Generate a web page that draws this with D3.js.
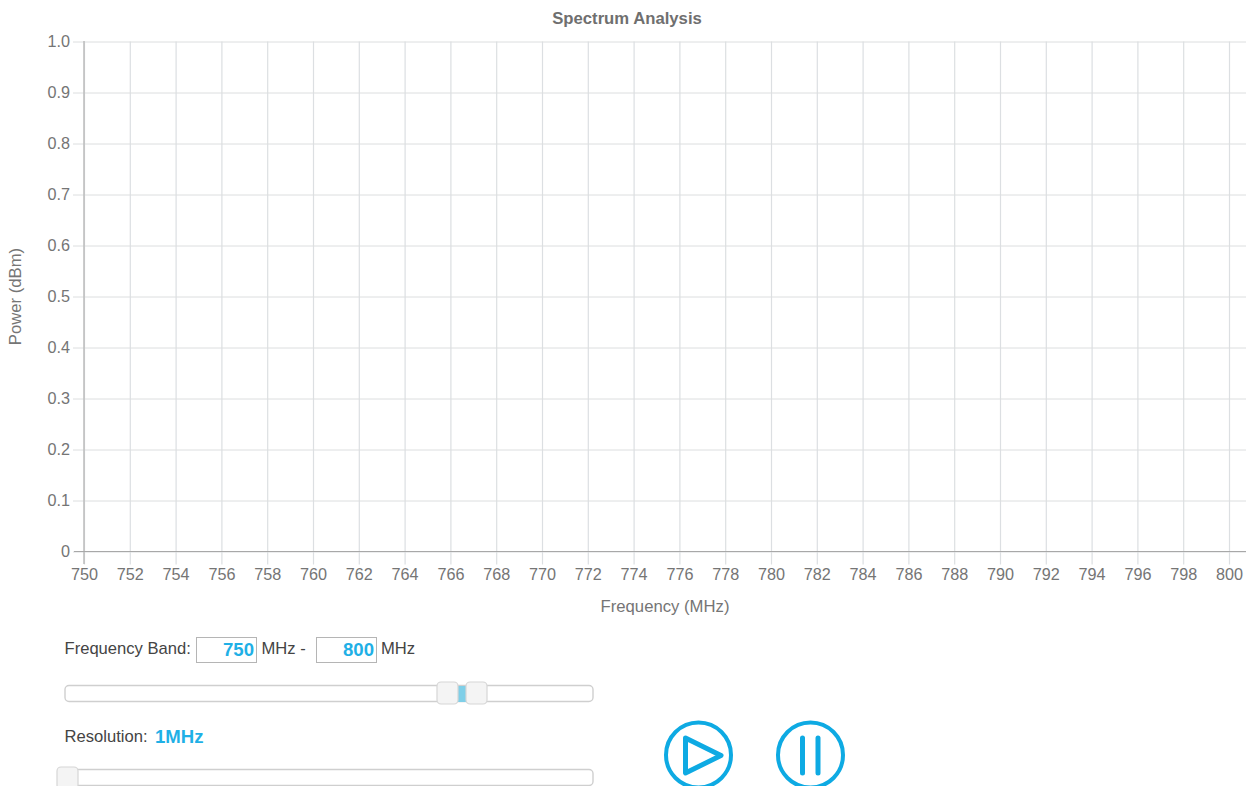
<!DOCTYPE html>
<html>
<head>
<meta charset="utf-8">
<style>
    html, body { margin: 0; padding: 0; background: #fff; overflow: hidden; }
    svg { display: block; font-family: "Liberation Sans", Arial, sans-serif; }
    .tick text { font-size: 16.2px; fill: #757575; }
    .lbl { font-size: 16.6px; fill: #444; }
    .val { font-size: 18.6px; font-weight: bold; fill: #1fb0e6; }
    .axis-title { font-size: 16.7px; fill: #757575; }
</style>
</head>
<body>
<svg id="chart" width="1249" height="786"></svg>
<script src="https://d3js.org/d3.v7.min.js"></script>
<script>
    // chart values
    const chartTitle = 'Spectrum Analysis'
    const xLabel = 'Frequency (MHz)'
    const yLabel = 'Power (dBm)'
    const freqTicks = [750, 752, 754, 756, 758, 760, 762, 764, 766, 768, 770, 772, 774,
        776, 778, 780, 782, 784, 786, 788, 790, 792, 794, 796, 798, 800]
    const powerTicks = [0, 0.1, 0.2, 0.3, 0.4, 0.5, 0.6, 0.7, 0.8, 0.9, 1.0]
    const bandStart = 750
    const bandEnd = 800
    const resolution = '1MHz'

    const svg = d3.select('#chart')
    const blue = '#0eaae3'

    const x = d3.scaleLinear().domain([750, 800]).range([84, 1229])
    const y = d3.scaleLinear().domain([0, 1]).range([551.5, 41.5])

    // x axis with gridlines running up from the tick
    const xAxis = d3.axisBottom(x).tickValues(freqTicks).tickFormat(d3.format('d'))
        .tickSize(-510).tickSizeOuter(0).tickPadding(17)
    const gx = svg.append('g').attr('transform', 'translate(0,551.5)').call(xAxis)
    gx.select('.domain').remove()
    gx.selectAll('.tick line').attr('stroke', '#dcdfe2').attr('stroke-width', 1.2).attr('y2', -510)
    gx.selectAll('.tick').append('line').attr('y1', 0).attr('y2', 13)
        .attr('stroke', '#dcdfe2').attr('stroke-width', 1.2)

    const yAxis = d3.axisLeft(y).tickValues(powerTicks)
        .tickFormat(d => d === 0 ? '0' : d3.format('.1f')(d))
        .tickSize(0).tickPadding(14)
    const gy = svg.append('g').attr('transform', 'translate(84,0)').call(yAxis)
    gy.select('.domain').remove()
    gy.selectAll('.tick line').attr('x1', -11).attr('x2', 1162)
        .attr('stroke', '#dcdedf').attr('stroke-width', 1)

    // axis lines on top of the grid
    svg.append('line').attr('x1', 84).attr('x2', 84).attr('y1', 41).attr('y2', 564)
        .attr('stroke', '#bdbdbd').attr('stroke-width', 1.5)
    svg.append('line').attr('x1', 74).attr('x2', 1246).attr('y1', 551.5).attr('y2', 551.5)
        .attr('stroke', '#a8a8a8').attr('stroke-width', 1.2)

    svg.append('text').attr('x', 627).attr('y', 23.5).attr('text-anchor', 'middle')
        .style('font-size', '16.7px').style('font-weight', 'bold').attr('fill', '#6f6f6f').text(chartTitle)
    svg.append('text').attr('class', 'axis-title').attr('x', 665).attr('y', 612).attr('text-anchor', 'middle').text(xLabel)
    svg.append('text').attr('class', 'axis-title').attr('transform', 'translate(20.5,296.5) rotate(-90)')
        .attr('text-anchor', 'middle').text(yLabel)

    // frequency band row
    svg.append('text').attr('class', 'lbl').attr('x', 64.5).attr('y', 654).text('Frequency Band:')
    function numberBox(left, value) {
        svg.append('rect').attr('x', left + 0.5).attr('y', 637.5).attr('width', 60).attr('height', 25)
            .attr('fill', '#fff').attr('stroke', '#b5b5b5').attr('stroke-width', 1)
        svg.append('text').attr('class', 'val').attr('x', left + 58).attr('y', 655.5)
            .attr('text-anchor', 'end').text(value)
    }
    numberBox(196, bandStart)
    svg.append('text').attr('class', 'lbl').attr('x', 261.5).attr('y', 654).text('MHz -')
    numberBox(316, bandEnd)
    svg.append('text').attr('class', 'lbl').attr('x', 381).attr('y', 654).text('MHz')

    function sliderTrack(cy) {
        svg.append('rect').attr('x', 65).attr('y', cy - 8).attr('width', 528).attr('height', 16).attr('rx', 4)
            .attr('fill', '#fff').attr('stroke', '#cfcfcf').attr('stroke-width', 1.4)
    }
    function sliderHandle(left, top) {
        svg.append('rect').attr('x', left).attr('y', top).attr('width', 21).attr('height', 22).attr('rx', 4)
            .attr('fill', '#f4f4f4').attr('stroke', '#d6d6d6').attr('stroke-width', 1.2)
    }
    sliderTrack(693.5)
    svg.append('rect').attr('x', 457).attr('y', 686).attr('width', 10).attr('height', 16).attr('fill', '#7fcfe8')
    sliderHandle(437, 682)
    sliderHandle(466, 682)

    // resolution row
    svg.append('text').attr('class', 'lbl').attr('x', 64.5).attr('y', 742).text('Resolution:')
    svg.append('text').attr('class', 'val').attr('x', 155).attr('y', 742.5).text(resolution)
    sliderTrack(777.5)
    sliderHandle(57, 767)

    // play and pause buttons
    svg.append('circle').attr('cx', 698.5).attr('cy', 755).attr('r', 32.5)
        .attr('fill', 'none').attr('stroke', blue).attr('stroke-width', 4)
    svg.append('path').attr('d', 'M685.5,738 L721,755.5 L685.5,773 Z')
        .attr('fill', 'none').attr('stroke', blue).attr('stroke-width', 5).attr('stroke-linejoin', 'round')
    svg.append('circle').attr('cx', 810.5).attr('cy', 755).attr('r', 32.5)
        .attr('fill', 'none').attr('stroke', blue).attr('stroke-width', 4)
    ;[802.5, 818].forEach(px => {
        svg.append('line').attr('x1', px).attr('x2', px).attr('y1', 738).attr('y2', 773)
            .attr('stroke', blue).attr('stroke-width', 5).attr('stroke-linecap', 'round')
    })
</script>
</body>
</html>
